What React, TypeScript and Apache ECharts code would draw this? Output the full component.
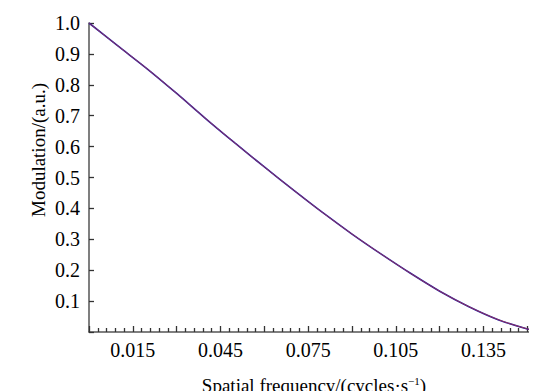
import React, { useEffect, useRef } from "react";
import * as echarts from "echarts";

const freq = [0, 0.01, 0.02, 0.03, 0.04, 0.05, 0.06, 0.07, 0.08, 0.09, 0.1, 0.11, 0.12, 0.13, 0.14, 0.15, 0.155];
const modBlue = [1.0, 0.925, 0.851, 0.772, 0.69, 0.611, 0.534, 0.459, 0.386, 0.317, 0.252, 0.19, 0.132, 0.082, 0.04, 0.01, 0.0];
const modRed = [1.0, 0.925, 0.851, 0.772, 0.69, 0.611, 0.534, 0.459, 0.386, 0.317, 0.252, 0.19, 0.132, 0.082, 0.04, 0.01, 0.0];
const yTicks = [0.1, 0.2, 0.3, 0.4, 0.5, 0.6, 0.7, 0.8, 0.9, 1.0];
const xLabels = [0.015, 0.045, 0.075, 0.105, 0.135];

const FONT = "Times New Roman";
const TICK_COLOR = "#333333";

export default function App() {
  const ref = useRef<HTMLDivElement>(null);
  useEffect(() => {
    if (!ref.current) return;
    const chart = echarts.init(ref.current, undefined, { renderer: "svg" });
    chart.setOption({
      animation: false,
      grid: { left: 81, right: 2, top: 15, bottom: 67 },
      xAxis: {
        type: "value",
        min: 0,
        max: 0.155,
        interval: 0.015,
        axisLine: { show: true, onZero: false, lineStyle: { color: "#555", width: 1.5 } },
        axisTick: { show: true, inside: true, length: 6, lineStyle: { color: TICK_COLOR, width: 1.3 } },
        minorTick: { show: true, splitNumber: 5, length: 4, lineStyle: { color: TICK_COLOR, width: 1.3 } },
        splitLine: { show: false },
        axisLabel: {
          color: "#000",
          fontFamily: FONT,
          fontSize: 20,
          margin: 8,
          formatter: (v: number) => {
            const hit = xLabels.find((l) => Math.abs(l - v) < 1e-6);
            return hit !== undefined ? hit.toFixed(3) : "";
          },
        },
      },
      yAxis: {
        type: "value",
        min: 0,
        max: 1,
        interval: 0.1,
        axisLine: { show: true, onZero: false, lineStyle: { color: "#555", width: 1.5 } },
        axisTick: { show: true, inside: true, length: 5, lineStyle: { color: TICK_COLOR, width: 1.3 } },
        splitLine: { show: false },
        axisLabel: {
          color: "#000",
          fontFamily: FONT,
          fontSize: 20,
          margin: 9,
          formatter: (v: number) => {
            const hit = yTicks.find((t) => Math.abs(t - v) < 1e-6);
            return hit !== undefined ? hit.toFixed(1) : "";
          },
        },
      },
      graphic: [
        {
          type: "text",
          x: 30,
          y: 142,
          rotation: Math.PI / 2,
          style: {
            text: "Modulation/(a.u.)",
            fontFamily: FONT,
            fontSize: 19,
            fill: "#000",
            align: "center",
            verticalAlign: "middle",
          },
        },
        {
          type: "text",
          x: 306,
          y: 377,
          style: {
            text: "Spatial frequency/(cycles·s{sup|−1})",
            fontFamily: FONT,
            fontSize: 19,
            fill: "#000",
            align: "center",
            verticalAlign: "middle",
            rich: {
              sup: { fontFamily: FONT, fontSize: 11, fill: "#000", padding: [0, 0, 9, 0] },
            },
          },
        },
      ],
      series: [
        {
          type: "line",
          data: freq.map((f, i) => [f, modBlue[i]]),
          smooth: 0.3,
          showSymbol: false,
          lineStyle: { color: "#1a1aa8", width: 1.6 },
        },
        {
          type: "line",
          data: freq.map((f, i) => [f, modRed[i]]),
          smooth: 0.3,
          showSymbol: false,
          lineStyle: { color: "#c43a3a", width: 1, opacity: 0.7 },
        },
      ],
    });
    return () => chart.dispose();
  }, []);
  return <div ref={ref} style={{ width: 537, height: 391 }} />;
}
